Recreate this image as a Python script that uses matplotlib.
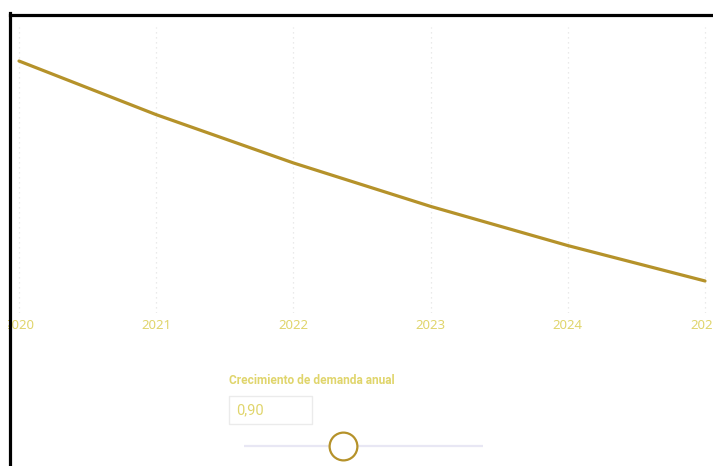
import matplotlib
matplotlib.use("Agg")
import matplotlib.pyplot as plt
from matplotlib.patches import Rectangle
from matplotlib.lines import Line2D

# data
years = [2020, 2021, 2022, 2023, 2024, 2025]
demand = [1000, 900, 810, 729, 656, 590]
slider_label = "Crecimiento de demanda anual"
slider_value = 0.90
slider_min = 0.5
slider_max = 1.47

W, H = 713, 466
line_color = "#B5922A"
text_color = "#E0D56C"

fig = plt.figure(figsize=(W / 100, H / 100), dpi=100)
fig.patch.set_facecolor("white")


def fx(px):
    return px / W


def fy(py):
    return 1 - py / H


# main chart
ax = fig.add_axes([0, fy(313), 1, fy(27) - fy(313)])
ax.plot(years, demand, color=line_color, lw=2.3, solid_capstyle="round")
ax.set_xlim(2020 - 19 / 137.2, 2020 + 694 / 137.2)
ax.set_ylim(530.3, 1063.4)
ax.set_xticks(years)
ax.set_xticklabels([str(y) for y in years], color=text_color,
                   fontsize=9.5, family="Noto Sans")
ax.set_yticks([])
ax.tick_params(axis="x", length=0, pad=4.5)
ax.grid(axis="x", color="#E4E4E4", lw=0.9, linestyle=(0, (1, 3)))
for s in ax.spines.values():
    s.set_visible(False)

# slider label and value box
fig.text(fx(229), fy(380), slider_label, color=text_color, fontsize=8.6,
         fontweight="bold", family="Roboto", va="center", ha="left")
fig.add_artist(Rectangle((fx(229.5), fy(423.5)), fx(82.5), fy(396) - fy(423.5),
                         transform=fig.transFigure, facecolor="white",
                         edgecolor="#EBEBEB", lw=1))
fig.text(fx(236.5), fy(410), f"{slider_value:.2f}".replace(".", ","),
         color=text_color, fontsize=10.5, family="Roboto",
         va="center", ha="left")

# slider
axs = fig.add_axes([fx(244), fy(460), fx(483) - fx(244), fy(432) - fy(460)])
axs.set_xlim(slider_min, slider_max)
axs.set_ylim(-1, 1)
axs.axis("off")
axs.plot([slider_min, slider_max], [0, 0], color="#E8E7F4", lw=1.6,
         solid_capstyle="butt", clip_on=False)
axs.plot([slider_value], [0], marker="o", markersize=20, markerfacecolor="white",
         markeredgecolor=line_color, markeredgewidth=1.6, clip_on=False)

# frame of the screenshot
fig.add_artist(Rectangle((0, 0), fx(8), 1, transform=fig.transFigure,
                         facecolor="white", edgecolor="none", zorder=10))
fig.add_artist(Rectangle((0, fy(13)), 1, fy(0) - fy(13), transform=fig.transFigure,
                         facecolor="white", edgecolor="none", zorder=10))
fig.add_artist(Line2D([fx(9.5), fx(9.5)], [0, fy(13)], transform=fig.transFigure,
                      color="black", lw=2.3, zorder=11, solid_capstyle="projecting"))
fig.add_artist(Line2D([fx(9.5), 1], [fy(14.5), fy(14.5)], transform=fig.transFigure,
                      color="black", lw=2.3, zorder=11, solid_capstyle="projecting"))

fig.savefig("out.png", dpi=100)
